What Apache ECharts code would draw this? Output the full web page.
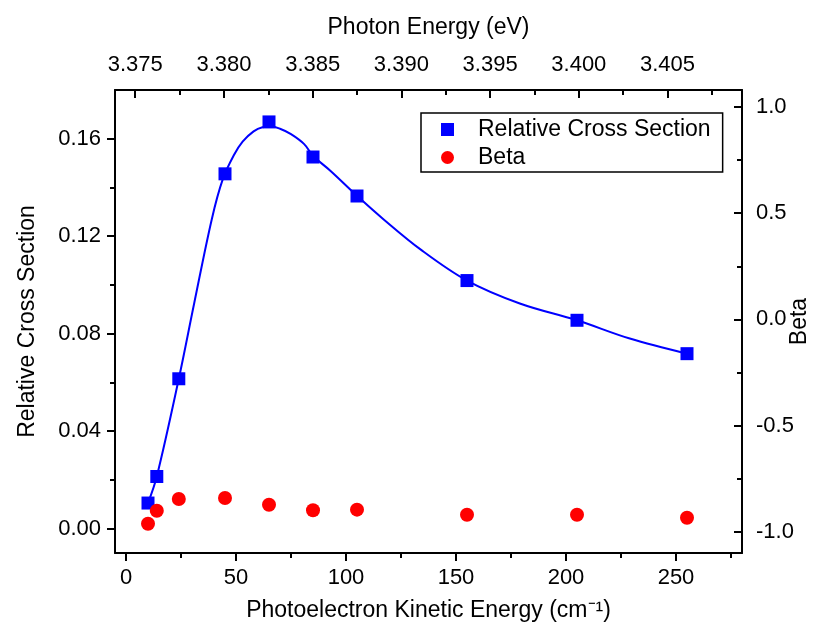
<!DOCTYPE html>
<html>
<head>
<meta charset="utf-8">
<script src="https://cdn.jsdelivr.net/npm/echarts@6/dist/echarts.min.js"></script>
<style>
  html, body { margin: 0; padding: 0; background: #fff; }
  #chart { width: 826px; height: 626px; }
</style>
</head>
<body>
<div id="chart"></div>
<script>
// values
const kineticEnergy = [10, 14, 24, 45, 65, 85, 105, 155, 205, 255]
const crossSection = [0.0105, 0.0214, 0.0615, 0.1456, 0.1669, 0.1525, 0.1365, 0.1018, 0.0855, 0.0718]
const beta = [-0.962, -0.901, -0.846, -0.841, -0.873, -0.899, -0.896, -0.92, -0.92, -0.934]

// fitted curve
const fitEnergy = [10, 14, 24, 31, 39, 44, 49, 53, 58, 62, 66, 70, 75, 81, 85, 93, 105, 117, 134, 155, 179, 205, 229, 255]
const fitCross = [0.0105, 0.0214, 0.0615, 0.0925, 0.127, 0.1434, 0.1532, 0.1588, 0.163, 0.1647, 0.165, 0.1641, 0.1619, 0.1578, 0.153, 0.1468, 0.1366, 0.127, 0.1145, 0.1018, 0.0924, 0.0855, 0.078, 0.0718]

// tick labels
const keTicks = [0, 50, 100, 150, 200, 250]
const keMinor = [25, 75, 125, 175, 225, 275]
const csTicks = [0, 0.04, 0.08, 0.12, 0.16]
const csMinor = [0.02, 0.06, 0.10, 0.14]
const betaTicks = [-1, -0.5, 0, 0.5, 1]
const betaMinor = [-0.75, -0.25, 0.25, 0.75]
const evTicks = [3.375, 3.38, 3.385, 3.39, 3.395, 3.4, 3.405]
const evMinor = [3.3775, 3.3825, 3.3875, 3.3925, 3.3975, 3.4025, 3.4075]

// photon energy = threshold + kinetic energy
const eThreshold = 3.37448
const cmToEv = 1.23984e-4
const keMin = -5
const keMax = 280

const font = 'Liberation Sans, Arial, sans-serif'
const black = '#000'

const chart = echarts.init(document.getElementById('chart'))

// 主刻度轴
const majorAxis = (position, min, max, ticks, inside, digits) => ({
  type: 'value',
  position: position,
  min: min,
  max: max,
  nameMoveOverlap: false,
  splitLine: { show: false },
  axisLine: { show: true, onZero: false, lineStyle: { color: black, width: 2 } },
  axisTick: { show: true, inside: inside, length: 8, customValues: ticks, lineStyle: { color: black, width: 2 } },
  axisLabel: {
    show: true,
    customValues: ticks,
    margin: 14,
    fontFamily: font,
    fontSize: 22,
    color: black,
    formatter: (v) => v.toFixed(digits),
  },
})

// 次刻度轴，只画短刻度
const minorAxis = (position, min, max, ticks, inside) => ({
  type: 'value',
  position: position,
  min: min,
  max: max,
  splitLine: { show: false },
  axisLine: { show: false, onZero: false },
  axisLabel: { show: false },
  axisTick: { show: true, inside: inside, length: 5, customValues: ticks, lineStyle: { color: black, width: 2 } },
})

const nameStyle = { fontFamily: font, fontSize: 23, color: black }

const bottomAxis = majorAxis('bottom', keMin, keMax, keTicks, false, 0)
bottomAxis.name = 'Photoelectron Kinetic Energy (cm⁻¹)'
bottomAxis.nameLocation = 'middle'
bottomAxis.nameGap = 46
bottomAxis.nameTextStyle = nameStyle

const topAxis = majorAxis('top', eThreshold + keMin * cmToEv, eThreshold + keMax * cmToEv, evTicks, true, 3)
topAxis.name = 'Photon Energy (eV)'
topAxis.nameLocation = 'middle'
topAxis.nameGap = 51
topAxis.nameTextStyle = nameStyle

const leftAxis = majorAxis('left', -0.01, 0.18, csTicks, false, 2)
leftAxis.name = 'Relative Cross Section'
leftAxis.nameLocation = 'middle'
leftAxis.nameRotate = 90
leftAxis.nameGap = 76
leftAxis.nameTextStyle = nameStyle

const rightAxis = majorAxis('right', -1.1, 1.08, betaTicks, true, 1)
rightAxis.name = 'Beta'
rightAxis.nameLocation = 'middle'
rightAxis.nameRotate = 90
rightAxis.nameGap = 46
rightAxis.nameTextStyle = nameStyle

const option = {
  backgroundColor: '#fff',
  animation: false,
  grid: { left: 115, right: 84, top: 90, bottom: 73, outerBoundsMode: 'none' },
  legend: {
    data: [
      { name: 'Relative Cross Section', icon: 'rect' },
      { name: 'Beta', icon: 'circle' },
    ],
    orient: 'vertical',
    left: 421,
    top: 113,
    padding: [5, 12, 3, 20],
    itemWidth: 13,
    itemHeight: 13,
    itemGap: 5,
    borderColor: black,
    borderWidth: 1.5,
    borderRadius: 0,
    textStyle: { fontFamily: font, fontSize: 23, color: black, lineHeight: 20, padding: [0, 0, 0, 19] },
  },
  xAxis: [
    bottomAxis,
    topAxis,
    minorAxis('bottom', keMin, keMax, keMinor, false),
    minorAxis('top', eThreshold + keMin * cmToEv, eThreshold + keMax * cmToEv, evMinor, true),
  ],
  yAxis: [
    leftAxis,
    rightAxis,
    minorAxis('left', -0.01, 0.18, csMinor, false),
    minorAxis('right', -1.1, 1.08, betaMinor, true),
  ],
  series: [
    {
      name: 'fit',
      type: 'line',
      xAxisIndex: 0,
      yAxisIndex: 0,
      showSymbol: false,
      smooth: 0.35,
      lineStyle: { color: '#0000ff', width: 2 },
      data: fitEnergy.map((x, i) => [x, fitCross[i]]),
    },
    {
      name: 'Relative Cross Section',
      type: 'scatter',
      xAxisIndex: 0,
      yAxisIndex: 0,
      symbol: 'rect',
      symbolSize: 13,
      itemStyle: { color: '#0000ff', opacity: 1 },
      data: kineticEnergy.map((x, i) => [x, crossSection[i]]),
    },
    {
      name: 'Beta',
      type: 'scatter',
      xAxisIndex: 0,
      yAxisIndex: 1,
      symbol: 'circle',
      symbolSize: 14,
      itemStyle: { color: '#ff0000', opacity: 1 },
      data: kineticEnergy.map((x, i) => [x, beta[i]]),
    },
  ],
}

chart.setOption(option)
</script>
</body>
</html>
